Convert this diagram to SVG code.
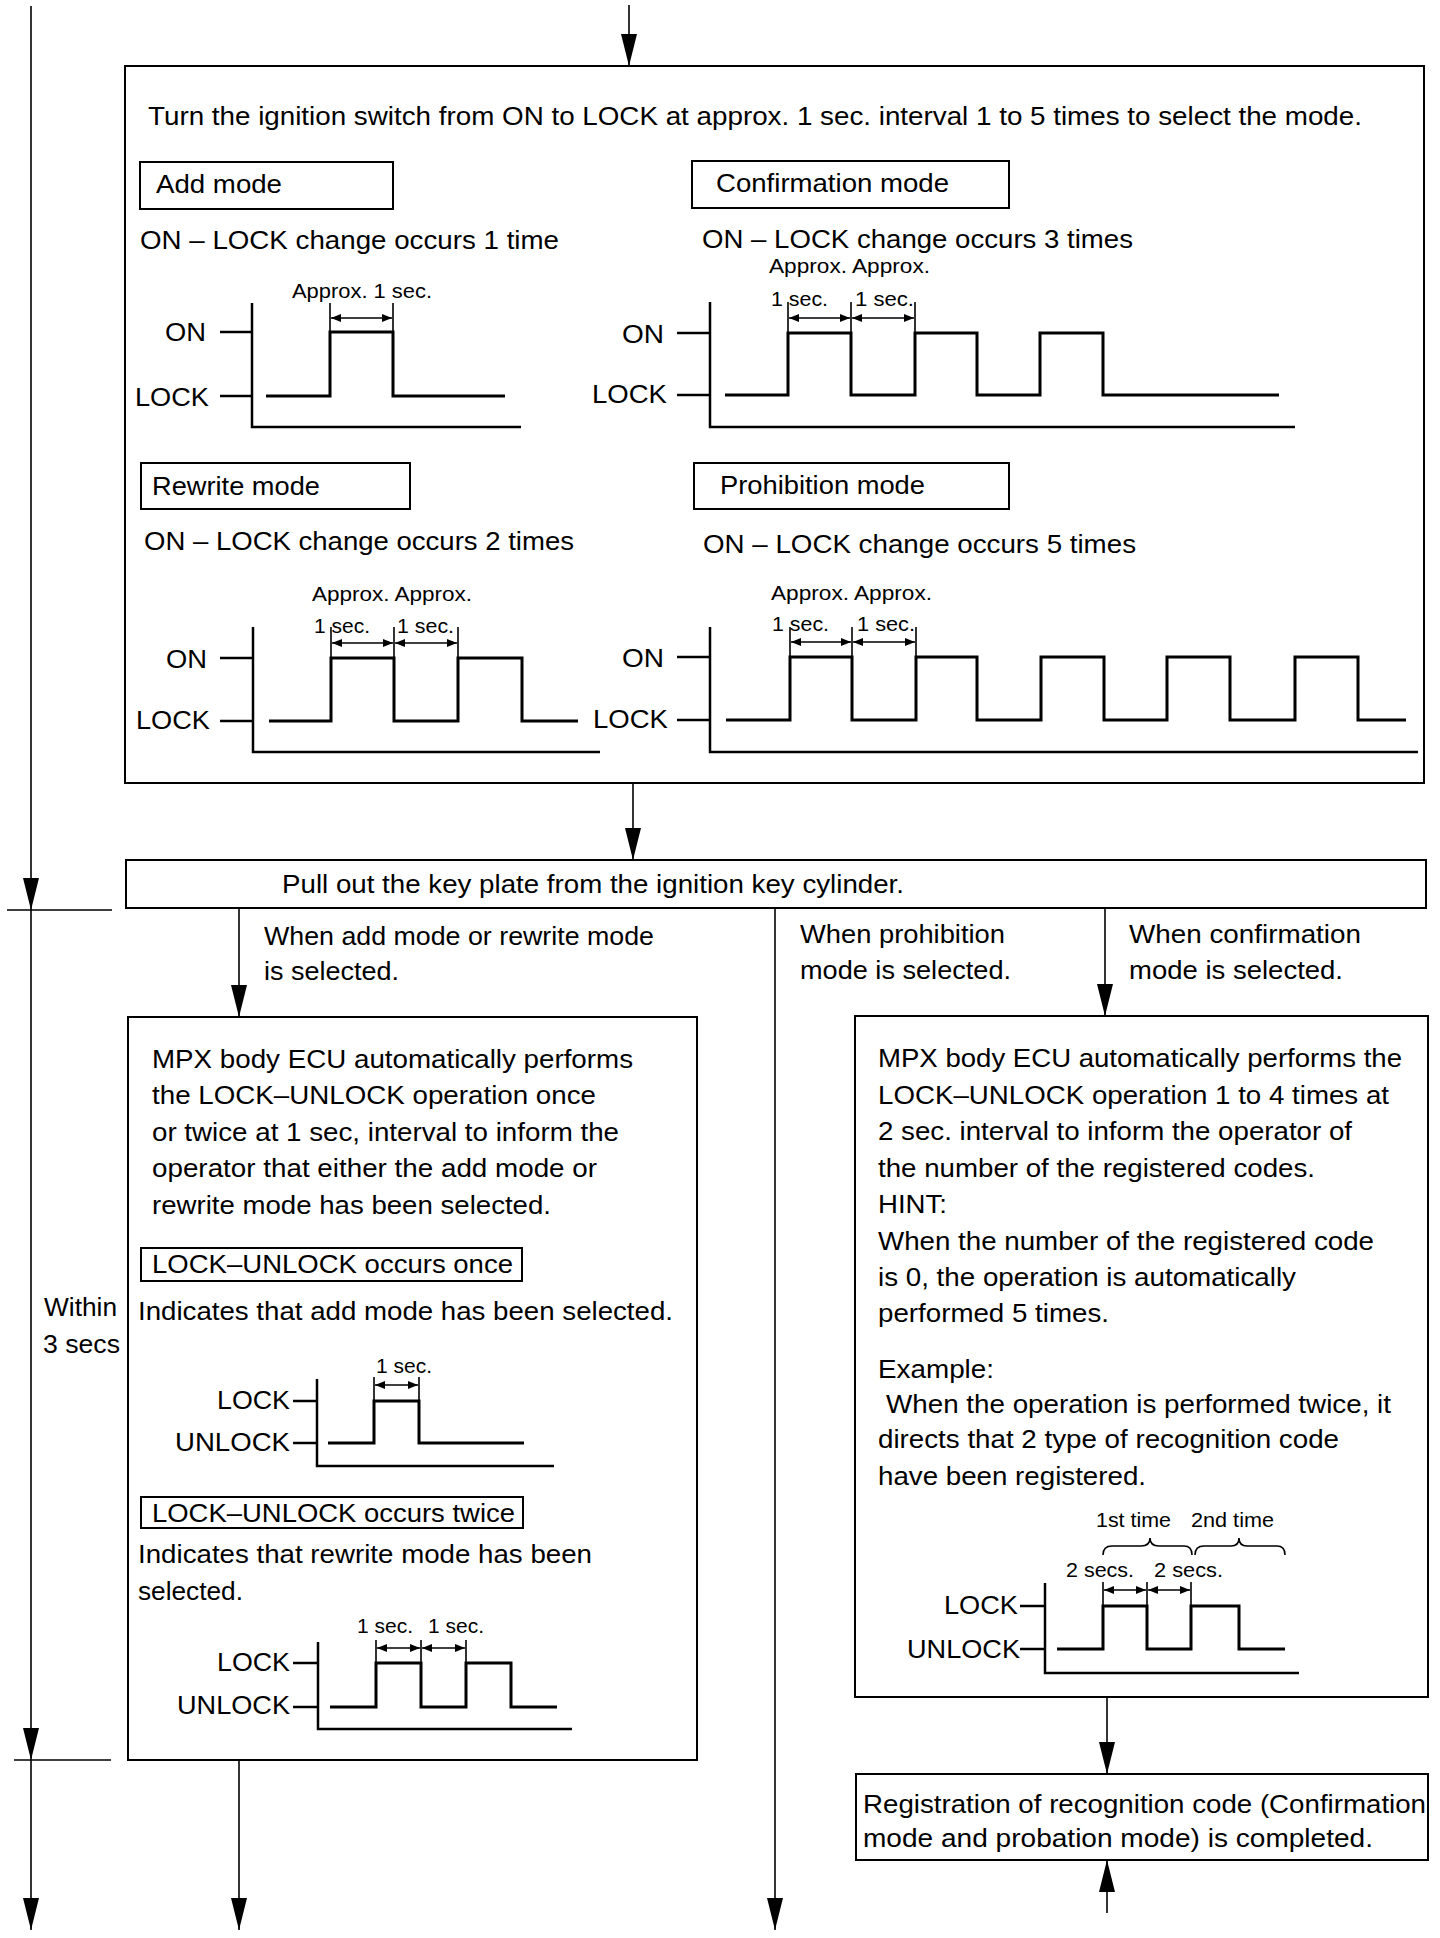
<svg xmlns="http://www.w3.org/2000/svg" width="1440" height="1938" viewBox="0 0 1440 1938">
<style>
.bg{fill:#fff}
.box{fill:none;stroke:#000;stroke-width:2}
.t{font-family:"Liberation Sans",Arial,sans-serif;font-size:25px;fill:#000}
.s{font-size:21px}
.sig{fill:none;stroke:#000;stroke-width:3;stroke-linejoin:miter}
.ax{fill:none;stroke:#000;stroke-width:2.5}
.dl{fill:none;stroke:#000;stroke-width:1.6}
.da{fill:none;stroke:#000;stroke-width:1.6;marker-start:url(#dah);marker-end:url(#dah)}
.conn{fill:none;stroke:#000;stroke-width:1.6;marker-end:url(#ah)}
</style>
<defs>
<marker id="ah" markerUnits="userSpaceOnUse" viewBox="0 0 32 16" refX="32" refY="8" markerWidth="32" markerHeight="16" orient="auto"><path d="M0,0 L32,8 L0,16 z" fill="#000"/></marker>
<marker id="dah" markerUnits="userSpaceOnUse" viewBox="0 0 10 8" refX="10" refY="4" markerWidth="10" markerHeight="8" orient="auto-start-reverse"><path d="M0,0 L10,4 L0,8 z" fill="#000"/></marker>
</defs>
<rect class="bg" x="0" y="0" width="1440" height="1938"/>

<g id="connectors">
<path class="conn" d="M629,5 V66"/>
<path class="conn" d="M633,783 V860"/>
<path class="conn" d="M239,908 V1017"/>
<path class="conn" d="M1105,908 V1016"/>
<path class="conn" d="M775,908 V1930"/>
<path class="conn" d="M1107,1697 V1774"/>
<path class="conn" d="M1107,1913 V1860"/>
<path class="conn" d="M239,1760 V1930"/>
<path class="conn" d="M31,6 V910"/>
<path class="conn" d="M31,910 V1760"/>
<path class="conn" d="M31,1760 V1930"/>
<path class="dl" d="M7,910 H112 M14,1760 H111"/>
<text class="t" x="264" y="945" textLength="390" lengthAdjust="spacingAndGlyphs">When add mode or rewrite mode</text>
<text class="t" x="264" y="980" textLength="135" lengthAdjust="spacingAndGlyphs">is selected.</text>
<text class="t" x="800" y="943" textLength="205" lengthAdjust="spacingAndGlyphs">When prohibition</text>
<text class="t" x="800" y="979" textLength="211" lengthAdjust="spacingAndGlyphs">mode is selected.</text>
<text class="t" x="1129" y="943" textLength="232" lengthAdjust="spacingAndGlyphs">When confirmation</text>
<text class="t" x="1129" y="979" textLength="214" lengthAdjust="spacingAndGlyphs">mode is selected.</text>
<text class="t" x="44" y="1316" textLength="73" lengthAdjust="spacingAndGlyphs">Within</text>
<text class="t" x="43" y="1353" textLength="77" lengthAdjust="spacingAndGlyphs">3 secs</text>
</g>

<g id="select-mode">
<rect class="box" x="125" y="66" width="1299" height="717"/>
<text class="t" x="148" y="125" textLength="1214" lengthAdjust="spacingAndGlyphs">Turn the ignition switch from ON to LOCK at approx. 1 sec. interval 1 to 5 times to select the mode.</text>

<g id="add-mode">
<rect class="box" x="140" y="162" width="253" height="47"/>
<text class="t" x="156" y="193" textLength="126" lengthAdjust="spacingAndGlyphs">Add mode</text>
<text class="t" x="140" y="249" textLength="419" lengthAdjust="spacingAndGlyphs">ON – LOCK change occurs 1 time</text>
<text class="t s" x="292" y="298" textLength="140" lengthAdjust="spacingAndGlyphs">Approx. 1 sec.</text>
<text class="t" x="165" y="341" textLength="41" lengthAdjust="spacingAndGlyphs">ON</text>
<text class="t" x="135" y="406" textLength="74" lengthAdjust="spacingAndGlyphs">LOCK</text>
<path class="ax" d="M252,303 V427 H521 M220,332 H252 M220,396 H252"/>
<path class="sig" d="M266,396 H330 V332 H393 V396 H505"/>
<path class="dl" d="M330,303 V332 M393,303 V332"/>
<path class="da" d="M331,318 H392"/>
</g>

<g id="confirmation-mode">
<rect class="box" x="692" y="161" width="317" height="47"/>
<text class="t" x="716" y="192" textLength="233" lengthAdjust="spacingAndGlyphs">Confirmation mode</text>
<text class="t" x="702" y="248" textLength="431" lengthAdjust="spacingAndGlyphs">ON – LOCK change occurs 3 times</text>
<text class="t s" x="769" y="273" textLength="161" lengthAdjust="spacingAndGlyphs">Approx. Approx.</text>
<text class="t s" x="771" y="306" textLength="57" lengthAdjust="spacingAndGlyphs">1 sec.</text>
<text class="t s" x="855" y="306" textLength="59" lengthAdjust="spacingAndGlyphs">1 sec.</text>
<text class="t" x="622" y="343" textLength="42" lengthAdjust="spacingAndGlyphs">ON</text>
<text class="t" x="592" y="403" textLength="75" lengthAdjust="spacingAndGlyphs">LOCK</text>
<path class="ax" d="M710,302 V427 H1295 M677,333 H710 M677,395 H710"/>
<path class="sig" d="M725,395 H788 V333 H851 V395 H915 V333 H977 V395 H1040 V333 H1103 V395 H1279"/>
<path class="dl" d="M788,302 V333 M851,302 V333 M915,302 V333"/>
<path class="da" d="M789,318 H850"/>
<path class="da" d="M852,318 H914"/>
</g>

<g id="rewrite-mode">
<rect class="box" x="141" y="463" width="269" height="46"/>
<text class="t" x="152" y="495" textLength="168" lengthAdjust="spacingAndGlyphs">Rewrite mode</text>
<text class="t" x="144" y="550" textLength="430" lengthAdjust="spacingAndGlyphs">ON – LOCK change occurs 2 times</text>
<text class="t s" x="312" y="601" textLength="160" lengthAdjust="spacingAndGlyphs">Approx. Approx.</text>
<text class="t s" x="314" y="633" textLength="56" lengthAdjust="spacingAndGlyphs">1 sec.</text>
<text class="t s" x="397" y="633" textLength="57" lengthAdjust="spacingAndGlyphs">1 sec.</text>
<text class="t" x="166" y="668" textLength="41" lengthAdjust="spacingAndGlyphs">ON</text>
<text class="t" x="136" y="729" textLength="74" lengthAdjust="spacingAndGlyphs">LOCK</text>
<path class="ax" d="M253,627 V752 H600 M220,658 H253 M220,721 H253"/>
<path class="sig" d="M269,721 H331 V658 H394 V721 H458 V658 H522 V721 H578"/>
<path class="dl" d="M331,627 V658 M394,627 V658 M458,627 V658"/>
<path class="da" d="M332,643 H393"/>
<path class="da" d="M395,643 H457"/>
</g>

<g id="prohibition-mode">
<rect class="box" x="694" y="463" width="315" height="46"/>
<text class="t" x="720" y="494" textLength="205" lengthAdjust="spacingAndGlyphs">Prohibition mode</text>
<text class="t" x="703" y="553" textLength="433" lengthAdjust="spacingAndGlyphs">ON – LOCK change occurs 5 times</text>
<text class="t s" x="771" y="600" textLength="161" lengthAdjust="spacingAndGlyphs">Approx. Approx.</text>
<text class="t s" x="772" y="631" textLength="57" lengthAdjust="spacingAndGlyphs">1 sec.</text>
<text class="t s" x="857" y="631" textLength="58" lengthAdjust="spacingAndGlyphs">1 sec.</text>
<text class="t" x="622" y="667" textLength="42" lengthAdjust="spacingAndGlyphs">ON</text>
<text class="t" x="593" y="728" textLength="75" lengthAdjust="spacingAndGlyphs">LOCK</text>
<path class="ax" d="M710,627 V752 H1418 M677,657 H710 M677,720 H710"/>
<path class="sig" d="M726,720 H790 V657 H852 V720 H916 V657 H977 V720 H1041 V657 H1104 V720 H1167 V657 H1230 V720 H1295 V657 H1358 V720 H1406"/>
<path class="dl" d="M790,627 V657 M852,627 V657 M916,627 V657"/>
<path class="da" d="M791,642 H851"/>
<path class="da" d="M853,642 H915"/>
</g>
</g>

<g id="pull-out">
<rect class="box" x="126" y="860" width="1300" height="48"/>
<text class="t" x="282" y="893" textLength="622" lengthAdjust="spacingAndGlyphs">Pull out the key plate from the ignition key cylinder.</text>
</g>

<g id="mpx-add-rewrite">
<rect class="box" x="128" y="1017" width="569" height="743"/>
<text class="t" x="152" y="1068" textLength="481" lengthAdjust="spacingAndGlyphs">MPX body ECU automatically performs</text>
<text class="t" x="152" y="1104" textLength="444" lengthAdjust="spacingAndGlyphs">the LOCK–UNLOCK operation once</text>
<text class="t" x="152" y="1141" textLength="467" lengthAdjust="spacingAndGlyphs">or twice at 1 sec, interval to inform the</text>
<text class="t" x="152" y="1177" textLength="445" lengthAdjust="spacingAndGlyphs">operator that either the add mode or</text>
<text class="t" x="152" y="1214" textLength="399" lengthAdjust="spacingAndGlyphs">rewrite mode has been selected.</text>
<rect class="box" x="141" y="1248" width="381" height="33"/>
<text class="t" x="152" y="1273" textLength="361" lengthAdjust="spacingAndGlyphs">LOCK–UNLOCK occurs once</text>
<text class="t" x="138" y="1320" textLength="535" lengthAdjust="spacingAndGlyphs">Indicates that add mode has been selected.</text>
<text class="t s" x="376" y="1373" textLength="56" lengthAdjust="spacingAndGlyphs">1 sec.</text>
<text class="t" x="217" y="1409" textLength="73" lengthAdjust="spacingAndGlyphs">LOCK</text>
<text class="t" x="175" y="1451" textLength="115" lengthAdjust="spacingAndGlyphs">UNLOCK</text>
<path class="ax" d="M317,1379 V1466 H554 M293,1401 H317 M293,1443 H317"/>
<path class="sig" d="M328,1443 H374 V1401 H419 V1443 H524"/>
<path class="dl" d="M374,1377 V1401 M419,1377 V1401"/>
<path class="da" d="M375,1385 H418"/>
<rect class="box" x="141" y="1497" width="382" height="31"/>
<text class="t" x="152" y="1522" textLength="363" lengthAdjust="spacingAndGlyphs">LOCK–UNLOCK occurs twice</text>
<text class="t" x="138" y="1563" textLength="454" lengthAdjust="spacingAndGlyphs">Indicates that rewrite mode has been</text>
<text class="t" x="138" y="1600" textLength="105" lengthAdjust="spacingAndGlyphs">selected.</text>
<text class="t s" x="357" y="1633" textLength="56" lengthAdjust="spacingAndGlyphs">1 sec.</text>
<text class="t s" x="428" y="1633" textLength="56" lengthAdjust="spacingAndGlyphs">1 sec.</text>
<text class="t" x="217" y="1671" textLength="73" lengthAdjust="spacingAndGlyphs">LOCK</text>
<text class="t" x="177" y="1714" textLength="113" lengthAdjust="spacingAndGlyphs">UNLOCK</text>
<path class="ax" d="M318,1642 V1729 H572 M293,1663 H318 M293,1707 H318"/>
<path class="sig" d="M330,1707 H376 V1663 H421 V1707 H466 V1663 H511 V1707 H557"/>
<path class="dl" d="M376,1640 V1663 M421,1640 V1663 M466,1640 V1663"/>
<path class="da" d="M377,1648 H420"/>
<path class="da" d="M422,1648 H465"/>
</g>

<g id="mpx-confirmation">
<rect class="box" x="855" y="1016" width="573" height="681"/>
<text class="t" x="878" y="1067" textLength="524" lengthAdjust="spacingAndGlyphs">MPX body ECU automatically performs the</text>
<text class="t" x="878" y="1104" textLength="511" lengthAdjust="spacingAndGlyphs">LOCK–UNLOCK operation 1 to 4 times at</text>
<text class="t" x="878" y="1140" textLength="474" lengthAdjust="spacingAndGlyphs">2 sec. interval to inform the operator of</text>
<text class="t" x="878" y="1177" textLength="437" lengthAdjust="spacingAndGlyphs">the number of the registered codes.</text>
<text class="t" x="878" y="1213" textLength="69" lengthAdjust="spacingAndGlyphs">HINT:</text>
<text class="t" x="878" y="1250" textLength="496" lengthAdjust="spacingAndGlyphs">When the number of the registered code</text>
<text class="t" x="878" y="1286" textLength="418" lengthAdjust="spacingAndGlyphs">is 0, the operation is automatically</text>
<text class="t" x="878" y="1322" textLength="231" lengthAdjust="spacingAndGlyphs">performed 5 times.</text>
<text class="t" x="878" y="1378" textLength="116" lengthAdjust="spacingAndGlyphs">Example:</text>
<text class="t" x="886" y="1413" textLength="505" lengthAdjust="spacingAndGlyphs">When the operation is performed twice, it</text>
<text class="t" x="878" y="1448" textLength="461" lengthAdjust="spacingAndGlyphs">directs that 2 type of recognition code</text>
<text class="t" x="878" y="1485" textLength="268" lengthAdjust="spacingAndGlyphs">have been registered.</text>
<text class="t s" x="1096" y="1527" textLength="75" lengthAdjust="spacingAndGlyphs">1st time</text>
<text class="t s" x="1191" y="1527" textLength="83" lengthAdjust="spacingAndGlyphs">2nd time</text>
<path class="dl" stroke-width="2" d="M1103,1555 Q1103,1546 1112,1546 H1141 Q1150,1546 1150,1538 Q1150,1546 1159,1546 H1184 Q1192,1546 1192,1555"/>
<path class="dl" stroke-width="2" d="M1195,1555 Q1195,1546 1204,1546 H1231 Q1239,1546 1239,1538 Q1239,1546 1247,1546 H1277 Q1285,1546 1285,1555"/>
<text class="t s" x="1066" y="1577" textLength="68" lengthAdjust="spacingAndGlyphs">2 secs.</text>
<text class="t s" x="1154" y="1577" textLength="69" lengthAdjust="spacingAndGlyphs">2 secs.</text>
<text class="t" x="944" y="1614" textLength="74" lengthAdjust="spacingAndGlyphs">LOCK</text>
<text class="t" x="907" y="1658" textLength="113" lengthAdjust="spacingAndGlyphs">UNLOCK</text>
<path class="ax" d="M1045,1583 V1673 H1299 M1020,1606 H1045 M1020,1649 H1045"/>
<path class="sig" d="M1057,1649 H1103 V1606 H1147 V1649 H1191 V1606 H1239 V1649 H1285"/>
<path class="dl" d="M1103,1582 V1606 M1147,1582 V1606 M1191,1582 V1606"/>
<path class="da" d="M1104,1590 H1146"/>
<path class="da" d="M1148,1590 H1190"/>
</g>

<g id="registration-complete">
<rect class="box" x="856" y="1774" width="572" height="86"/>
<text class="t" x="863" y="1813" textLength="563" lengthAdjust="spacingAndGlyphs">Registration of recognition code (Confirmation</text>
<text class="t" x="863" y="1847" textLength="510" lengthAdjust="spacingAndGlyphs">mode and probation mode) is completed.</text>
</g>
</svg>
